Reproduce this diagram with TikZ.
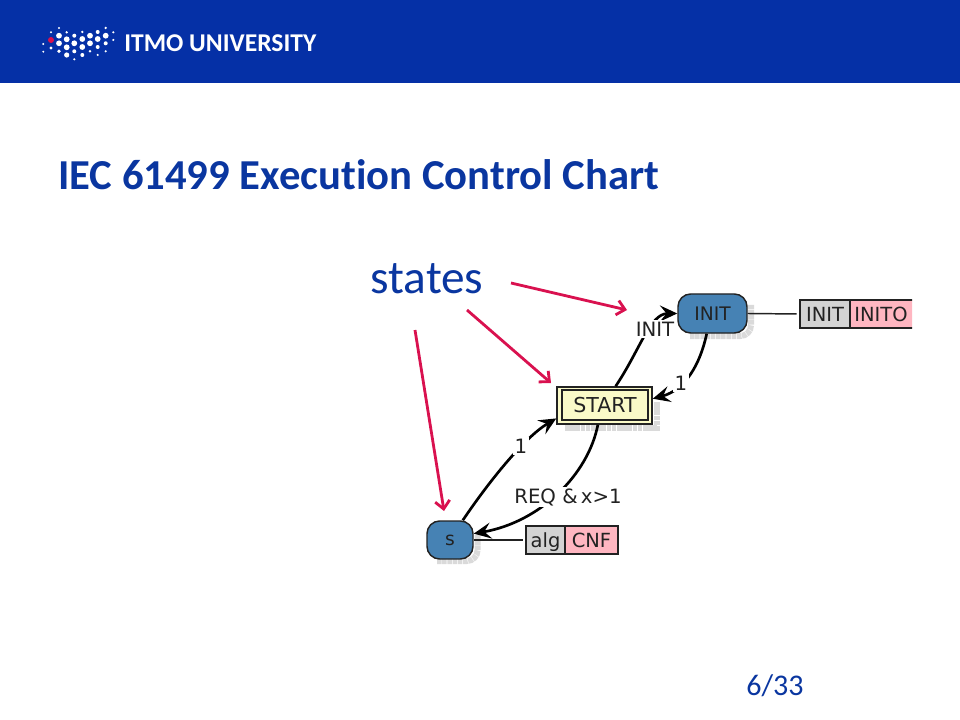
\documentclass[tikz,border=0pt]{standalone}
\usepackage{fontspec}
\setmainfont[Ligatures=NoCommon]{Carlito}
\newfontfamily\dv{DejaVu Sans}
\usetikzlibrary{arrows.meta}
\definecolor{itmo}{HTML}{0530A6}
\definecolor{ttl}{HTML}{0A36A0}
\definecolor{stblue}{HTML}{4682B4}
\definecolor{startfill}{HTML}{FAFAC8}
\definecolor{crim}{HTML}{D9114F}
\definecolor{algg}{HTML}{D3D3D3}
\definecolor{outp}{HTML}{FFB6C1}
\definecolor{shad}{HTML}{DADADA}
\definecolor{ink}{HTML}{222222}
\tikzset{
 x=0.75pt,y=-0.75pt,
 lbl/.style={font=\dv\fontsize{14.8}{14.8}\selectfont,text=ink,inner sep=1pt,fill=white},
 state/.style={rectangle,rounded corners=9.5pt,draw=ink,fill=stblue,line width=1.1pt,font=\dv\fontsize{14}{14}\selectfont,text=ink,inner sep=0pt},
 trans/.style={line width=2pt,black,-{Stealth[length=13pt,width=12pt,inset=5pt]}},
 link/.style={line width=1.1pt,ink,shorten >=2pt},
 pink arrow/.style={line width=2.1pt,crim,-{Straight Barb[length=6pt,width=11pt,line width=2.1pt]}},
 cell/.style={draw=ink,line width=1.1pt,inner sep=0pt,font=\dv\fontsize{14.6}{14.6}\selectfont,text=ink,text height=10.6pt,text depth=0pt},
 shadow band/.style={shad,line width=4.5pt,dash pattern=on 3.4pt off 0.5pt}
}
\begin{document}
\begin{tikzpicture}
\useasboundingbox (0,0) rectangle (960,720);
\fill[itmo] (0,0) rectangle (960,83);
% logo
\foreach \x/\y/\r in {43.3/44/1.1,43.3/51.7/1.1,
 51/32.3/1.2,51/48/1.6,
 59/28/1.2,59/35.7/2.9,59/43.3/2.9,59/51.3/1.8,
 66.7/32.3/1.3,66.7/39.3/2.9,66.7/47.3/2.9,66.7/55/2.6,
 74.3/35.7/2,74.3/43.3/2.9,74.3/51.3/2,74.3/59.3/1.2,
 82.3/32/1.3,82.3/39/2.9,82.3/47/2.9,82.3/55/2,
 90/35.7/2.9,90/43.3/2.9,90/51.3/1.4,
 97.7/32/2,97.7/39/2.9,97.7/47/2,97.7/55/1.2,
 105.7/28/1.3,105.7/35.7/2.9,105.7/43.3/2,105.7/51.3/1.2,
 113.3/32.3/1.2,113.3/40/1.2}
  \fill[white] (\x,\y) circle[radius=\r];
\fill[crim] (51,40) circle[radius=3];
\node[anchor=west,inner sep=0pt,text=white] (logo) at (124,43) {\fontsize{19.2}{19.2}\selectfont\textbf{ITMO UNIVERSITY}};
\node[anchor=west,inner sep=0pt,text=ttl] (title) at (58,175) {\fontsize{32}{32}\selectfont\textbf{IEC 61499 Execution Control Chart}};
\node[inner sep=0pt,text=ttl] (states) at (427,279) {\fontsize{35.5}{35.5}\selectfont states};
\node[inner sep=0pt,text=ttl] (page) at (775,686) {\fontsize{22.5}{22.5}\selectfont 6/33};
% shadows
\draw[shadow band,rounded corners=8pt] (690,336) -- (751,336) -- (751,305);
\draw[shadow band] (565,427.5) -- (656.5,427.5) -- (656.5,402);
\draw[shadow band,rounded corners=8pt] (437,561) -- (477.5,561) -- (477.5,532);
% nodes
\node[state,minimum width=69*0.75,minimum height=39*0.75] (init) at (712.5,313.5) {INIT};
\node[draw=ink,fill=startfill,line width=1.1pt,minimum width=95*0.75,minimum height=37*0.75,inner sep=0pt] (start) at (604.5,405.5) {};
\node[draw=ink,line width=1.1pt,minimum width=86*0.75,minimum height=30*0.75,inner sep=0pt,font=\dv\fontsize{15.4}{15.4}\selectfont,text=ink] (startin) at (605,405) {START};
\node[state,minimum width=46*0.75,minimum height=38*0.75] (s) at (450,540) {s};
% action blocks
\begin{scope}
\clip (780,290) rectangle (912,340);
\node[cell,fill=algg,minimum width=50*0.75,minimum height=28*0.75] (a1) at (825,314) {INIT};
\node[cell,fill=outp,minimum width=66*0.75,minimum height=28*0.75] (a2) at (883,314) {};
\end{scope}
\node[font=\dv\fontsize{14.6}{14.6}\selectfont,text=ink,inner sep=0pt] (a2t) at (881,314) {INITO};
\node[cell,fill=algg,minimum width=39*0.75,minimum height=28*0.75] (b1) at (545.5,540) {alg};
\node[cell,fill=outp,minimum width=53*0.75,minimum height=28*0.75] (b2) at (591.5,540) {CNF};
\draw[link] (init.east) -- (a1.west);
\draw[link] (s.east) -- (b1.west);
% transitions
\draw[trans] (start.60) .. controls (640,350) and (650,313.5) .. (init.west);
\draw[trans] (init.254) .. controls (700,365) and (685,390) .. (start.8);
\draw[trans] (s.57) .. controls (490,480) and (525,437) .. (start.195);
\draw[trans] (start.251) .. controls (588,475) and (540,522) .. (s.15);
% labels
\node[lbl] (l1) at (655,329) {INIT};
\node[lbl] (one1) at (681,383) {1};
\node[lbl] (one2) at (521,446) {1};
\node[lbl] (req) at (568,497) {REQ \&\,x>1};
% callouts
\coordinate (c1a) at (511,283); \coordinate (c1b) at (627,310);
\coordinate (c2a) at (467,310); \coordinate (c2b) at (551,383);
\coordinate (c3a) at (415,330); \coordinate (c3b) at (444,511);
\draw[pink arrow] (c1a) -- (c1b);
\draw[pink arrow] (c2a) -- (c2b);
\draw[pink arrow] (c3a) -- (c3b);
\end{tikzpicture}
\end{document}
